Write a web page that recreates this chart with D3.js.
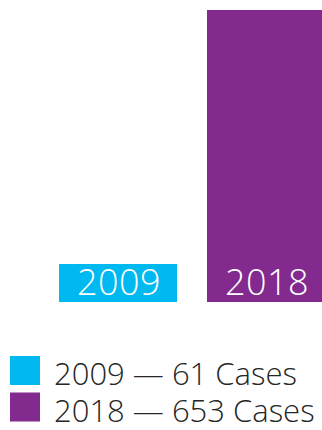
<!DOCTYPE html>
<html>
<head>
<meta charset="utf-8">
<script src="https://cdn.jsdelivr.net/npm/d3@7"></script>
<style>
    html, body { margin: 0; padding: 0; background: #fff; }
    svg { display: block; }
    text { font-family: "Open Sans", sans-serif; }
</style>
</head>
<body>
<svg id="chart" width="322" height="430"></svg>
<script>
'use strict';

var YEARS = ["2009", "2018"];
var CASES = [61, 653];
var COLORS = ["#00b9f0", "#832a8f"];
var LEGEND_LABELS = ["2009 \u2014 61 Cases", "2018 \u2014 653 Cases"];

var svg = d3.select("#chart");

var data = YEARS.map(function (year, i) {
    return {year: year, cases: CASES[i], color: COLORS[i], legend: LEGEND_LABELS[i]};
});

var x = d3.scaleBand()
    .domain(YEARS)
    .range([59, 325])
    .paddingInner(0.2027);

var y = d3.scaleLinear()
    .domain([0, d3.max(CASES)])
    .range([302, 10]);

// label box needs room, small bars get at least this height
var minBar = 38;

var gBars = svg.append("g").attr("class", "bars");

var bar = gBars.selectAll("g.bar")
    .data(data)
    .enter()
    .append("g")
    .attr("class", "bar");

bar.append("rect")
    .attr("x", function (d) { return x(d.year); })
    .attr("width", x.bandwidth())
    .attr("y", function (d) { return Math.min(y(d.cases), y(0) - minBar); })
    .attr("height", function (d) { return Math.max(y(0) - y(d.cases), minBar); })
    .style("fill", function (d) { return d.color; });

bar.append("text")
    .attr("x", function (d) { return x(d.year) + x.bandwidth() / 2 + 1; })
    .attr("y", y(0) - 7)
    .attr("text-anchor", "middle")
    .style("font-size", "36px")
    .style("font-weight", "300")
    .style("letter-spacing", "0.5px")
    .style("fill", "#fff")
    .text(function (d) { return d.year; });

var gLegend = svg.append("g").attr("class", "legend");

var item = gLegend.selectAll("g.item")
    .data(data)
    .enter()
    .append("g")
    .attr("class", "item")
    .attr("transform", function (d, i) { return "translate(10," + (356 + i * 36.5) + ")"; });

item.append("rect")
    .attr("width", 30)
    .attr("height", 29)
    .style("fill", function (d) { return d.color; });

item.append("text")
    .attr("x", 44)
    .attr("y", 29)
    .style("font-size", "31px")
    .style("font-weight", "300")
    .style("fill", "#262626")
    .text(function (d) { return d.legend; });
</script>
</body>
</html>
